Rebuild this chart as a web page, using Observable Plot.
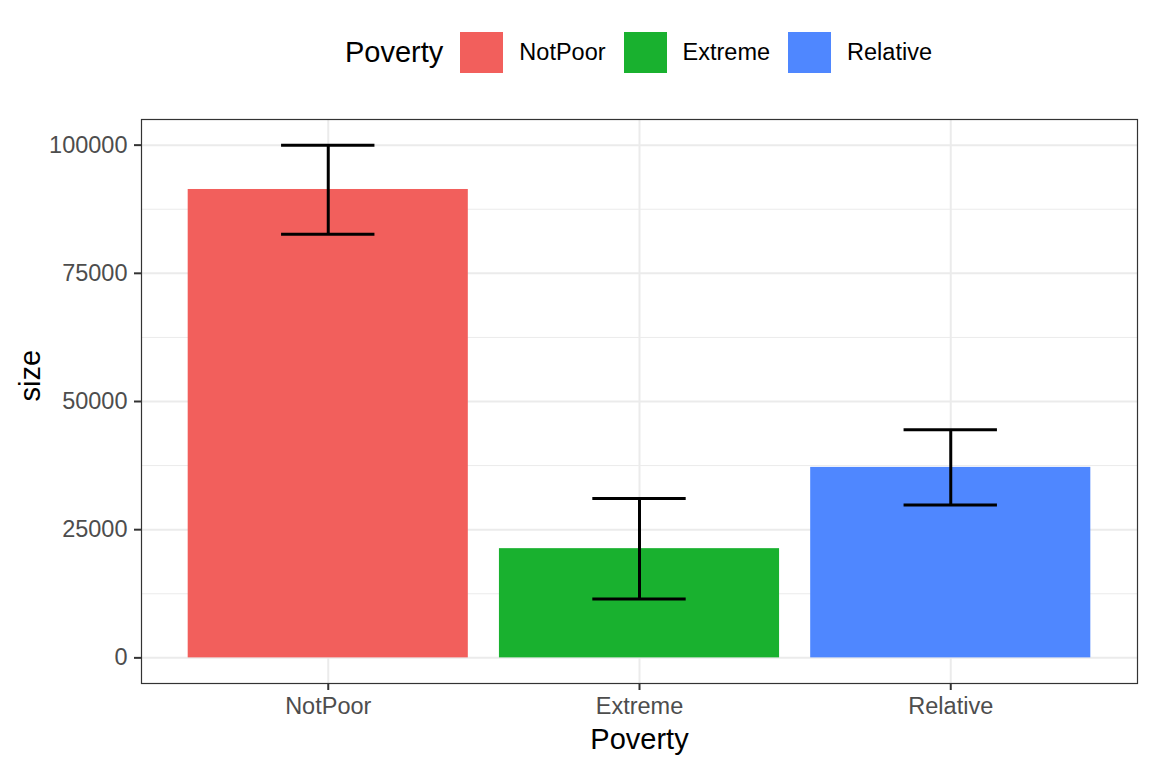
<!DOCTYPE html>
<html>
<head>
<meta charset="utf-8">
<script src="https://cdn.jsdelivr.net/npm/d3@7"></script>
<script src="https://cdn.jsdelivr.net/npm/@observablehq/plot@0.6"></script>
<style>
  body { margin: 0; background: #fff; font-family: "Liberation Sans", Arial, Helvetica, sans-serif; }
  #legend { height: 100px; width: 1152px; display: flex; align-items: center; justify-content: center; box-sizing: border-box; padding-top: 5px; padding-left: 125px; padding-right: 0; }
  #legend .title { font-size: 29px; margin-right: 17px; color: #000; }
  #legend .sw { width: 43px; height: 41px; margin-right: 16px; }
  #legend .lab { font-size: 23.5px; margin-right: 18px; color: #000; }
  #legend .lab:last-child { margin-right: 0; }
</style>
</head>
<body>
<div id="legend"></div>
<div id="chart"></div>
<script>
const categories = ["NotPoor", "Extreme", "Relative"];
const sizes = [91350, 21300, 37150];
const lower = [82600, 11500, 29800];
const upper = [100000, 31100, 44500];
const colors = ["#F25F5C", "#19B12F", "#4F87FF"];
const yTicks = [0, 25000, 50000, 75000, 100000];
const yMinor = [12500, 37500, 62500, 87500];

const data = categories.map((c, i) => ({cat: c, idx: i + 1, size: sizes[i], lo: lower[i], hi: upper[i]}));

// legend
const leg = document.getElementById("legend");
const t = document.createElement("span"); t.className = "title"; t.textContent = "Poverty"; leg.appendChild(t);
categories.forEach((c, i) => {
  const s = document.createElement("span"); s.className = "sw"; s.style.background = colors[i]; leg.appendChild(s);
  const l = document.createElement("span"); l.className = "lab"; l.textContent = c; leg.appendChild(l);
});

const font = "Liberation Sans, Arial, Helvetica, sans-serif";
const plot = Plot.plot({
  width: 1152,
  height: 668,
  marginTop: 19,
  marginBottom: 85,
  marginLeft: 141,
  marginRight: 15,
  style: {fontFamily: font, background: "#fff"},
  x: {domain: [0.4, 3.6], axis: null},
  y: {domain: [-5000, 105000], axis: null},
  color: {domain: categories, range: colors},
  marks: [
    Plot.gridY(yMinor, {stroke: "#EBEBEB", strokeOpacity: 1, strokeWidth: 1}),
    Plot.gridY(yTicks, {stroke: "#EBEBEB", strokeOpacity: 1, strokeWidth: 2}),
    Plot.gridX([1, 2, 3], {stroke: "#EBEBEB", strokeOpacity: 1, strokeWidth: 2}),
    Plot.rectY(data, {x1: d => d.idx - 0.45, x2: d => d.idx + 0.45, y1: 0, y2: "size", fill: "cat"}),
    Plot.ruleX(data, {x: "idx", y1: "lo", y2: "hi", stroke: "#000", strokeWidth: 3}),
    Plot.ruleY(data, {y: "hi", x1: d => d.idx - 0.15, x2: d => d.idx + 0.15, stroke: "#000", strokeWidth: 3}),
    Plot.ruleY(data, {y: "lo", x1: d => d.idx - 0.15, x2: d => d.idx + 0.15, stroke: "#000", strokeWidth: 3}),
    Plot.frame({stroke: "#333", strokeWidth: 1.2}),
    Plot.axisY(yTicks, {tickSize: 7, tickPadding: 7, fontSize: 23.5, fill: "#4D4D4D", stroke: "#333", strokeWidth: 2, label: null, tickFormat: d => String(d)}),
    Plot.axisX([1, 2, 3], {tickSize: 7, tickPadding: 7, fontSize: 23.5, fill: "#4D4D4D", stroke: "#333", strokeWidth: 2, label: null, tickFormat: d => categories[d - 1]}),
    Plot.text(["Poverty"], {frameAnchor: "bottom", dy: 56, text: d => d, fontSize: 29, fill: "#000", lineAnchor: "middle"}),
    Plot.text(["size"], {frameAnchor: "left", dx: -111, rotate: -90, text: d => d, fontSize: 29, fill: "#000", lineAnchor: "middle"})
  ]
});
document.getElementById("chart").appendChild(plot);
</script>
</body>
</html>
